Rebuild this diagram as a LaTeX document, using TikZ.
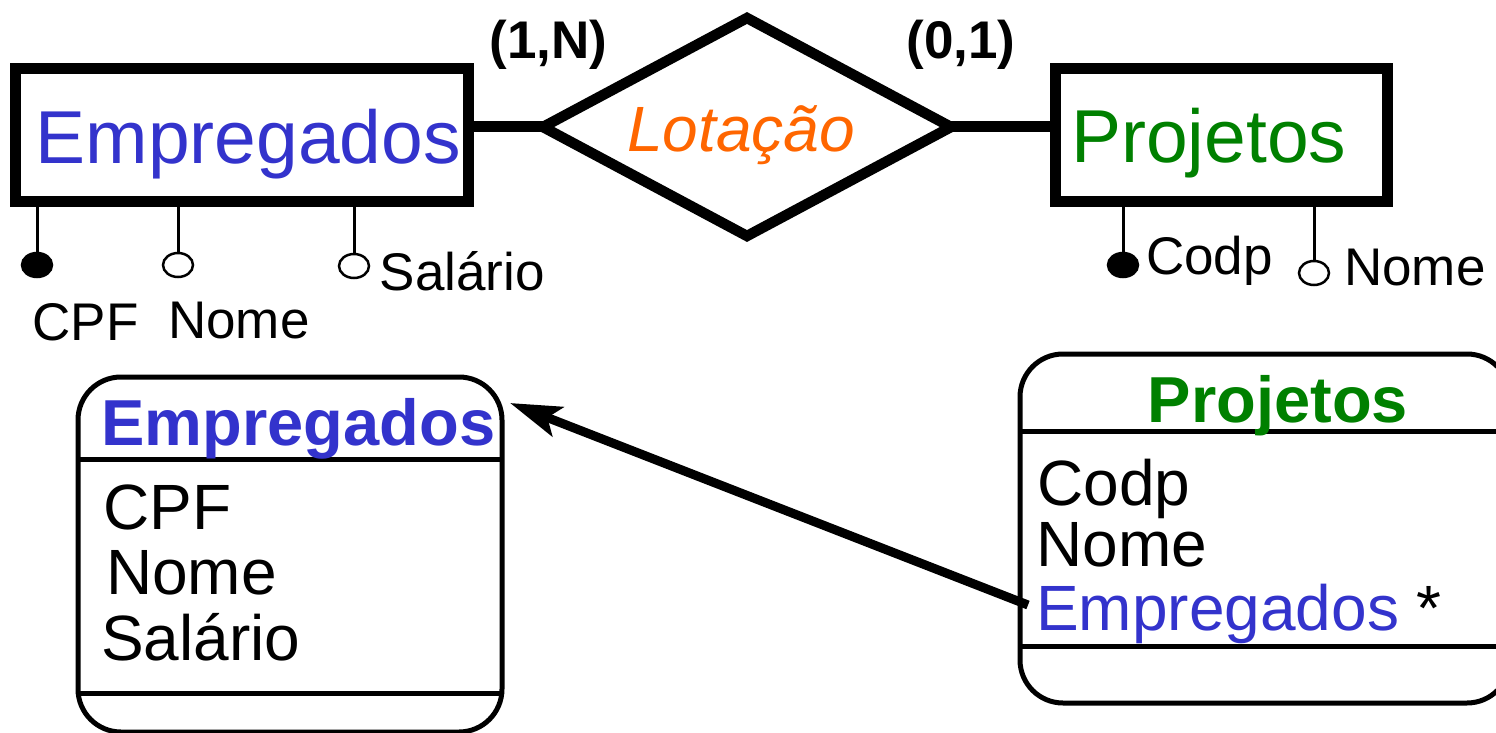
\documentclass[tikz,border=0pt]{standalone}
\usepackage{fontspec}
\setmainfont{Liberation Sans}
\usetikzlibrary{shapes.geometric,arrows.meta}
\definecolor{erblue}{RGB}{51,51,204}
\definecolor{ergreen}{RGB}{0,128,0}
\definecolor{erorange}{RGB}{255,102,0}
\tikzset{
  entbox/.style={draw,rectangle,line width=11pt,inner sep=0pt,outer sep=0pt},
  relbox/.style={draw,diamond,line width=10.5pt,inner sep=0pt,outer sep=0pt,minimum width=408pt,minimum height=218pt},
  conn/.style={line width=11pt},
  attrline/.style={line width=3pt},
  keyattr/.style={draw,ellipse,fill=black,line width=2.5pt,minimum width=30pt,minimum height=24pt,inner sep=0pt,outer sep=0pt},
  plainattr/.style={draw,ellipse,fill=white,line width=2.5pt,minimum width=30pt,minimum height=24pt,inner sep=0pt,outer sep=0pt},
  bigtxt/.style={inner sep=0pt,anchor=base west,font=\fontsize{75}{90}\selectfont},
  cardtxt/.style={inner sep=0pt,anchor=base,font=\fontsize{53}{62}\selectfont\bfseries},
  attrtxt/.style={inner sep=0pt,anchor=base west,font=\fontsize{53}{62}\selectfont},
  classbox/.style={draw,rectangle,rounded corners=43pt,line width=5pt,inner sep=0pt,outer sep=0pt},
  sepline/.style={line width=5pt},
  classtitle/.style={inner sep=0pt,anchor=base,font=\fontsize{65}{78}\selectfont\bfseries},
  itemtxt/.style={inner sep=0pt,anchor=base west,font=\fontsize{64}{76}\selectfont},
  refarrow/.style={line width=9pt,-{Stealth[length=51pt,width=31pt,inset=11pt]}}
}
\begin{document}
\begin{tikzpicture}[x=1pt,y=-1pt]
\useasboundingbox (0,0) rectangle (1496,733);
% ER part
\node[entbox,minimum width=453pt,minimum height=133pt] (E1) at (242,135) {};
\node[entbox,minimum width=332pt,minimum height=133pt] (P1) at (1221,135) {};
\node[relbox] (R) at (747,127) {};
\draw[conn] (E1.east |- R.west) -- (R.west);
\draw[conn] (R.east) -- (R.east -| P1.west);
\node[bigtxt,text=erblue] (E1t) at (35.5,163) {Empregados};
\node[bigtxt,text=ergreen] (P1t) at (1071,162) {Projetos};
\node[inner sep=0pt,anchor=base west,font=\fontsize{64}{76}\selectfont\itshape,text=erorange] (Rt) at (627,152) {Lotação};
\node[cardtxt] (c1) at (548.5,59) {(1,N)};
\node[cardtxt] (c2) at (961,59) {(0,1)};
% attributes of Empregados
\node[keyattr] (a1) at (37,265) {};
\node[plainattr] (a2) at (178,265) {};
\node[plainattr] (a3) at (354,266) {};
\draw[attrline] (a1.north) -- (a1.north |- E1.south);
\draw[attrline] (a2.north) -- (a2.north |- E1.south);
\draw[attrline] (a3.north) -- (a3.north |- E1.south);
\node[attrtxt] (a1t) at (32.5,340) {CPF};
\node[attrtxt] (a2t) at (168,338) {Nome};
\node[attrtxt] (a3t) at (379.5,290) {Salário};
% attributes of Projetos
\node[keyattr] (b1) at (1123,265) {};
\node[plainattr] (b2) at (1314,273) {};
\draw[attrline] (b1.north) -- (b1.north |- P1.south);
\draw[attrline] (b2.north) -- (b2.north |- P1.south);
\node[attrtxt] (b1t) at (1146,274) {Codp};
\node[attrtxt] (b2t) at (1344,285) {Nome};
% class boxes
\node[classbox,minimum width=424pt,minimum height=355pt] (EC) at (290,554.5) {};
\draw[sepline] (EC.west |- 0,459) -- (EC.east |- 0,459);
\draw[sepline] (EC.west |- 0,693) -- (EC.east |- 0,693);
\node[classtitle,text=erblue] (ECt) at (298.5,445) {Empregados};
\node[itemtxt] (ec1) at (103,529) {CPF};
\node[itemtxt] (ec2) at (106,594) {Nome};
\node[itemtxt] (ec3) at (101,660) {Salário};
\node[classbox,minimum width=490pt,minimum height=349pt] (PC) at (1265,528.5) {};
\draw[sepline] (PC.west |- 0,431) -- (PC.east |- 0,431);
\draw[sepline] (PC.west |- 0,646) -- (PC.east |- 0,646);
\node[classtitle,text=ergreen] (PCt) at (1278,422) {Projetos};
\node[itemtxt] (pc1) at (1037,505) {Codp};
\node[itemtxt] (pc2) at (1036,566) {Nome};
\node[itemtxt] (pc3) at (1036,630) {\textcolor{erblue}{Empregados} *};
% reference arrow
\coordinate (tip) at (510,403);
\coordinate (start) at (1028,605);
\draw[refarrow] (start) -- (tip);
\end{tikzpicture}
\end{document}
